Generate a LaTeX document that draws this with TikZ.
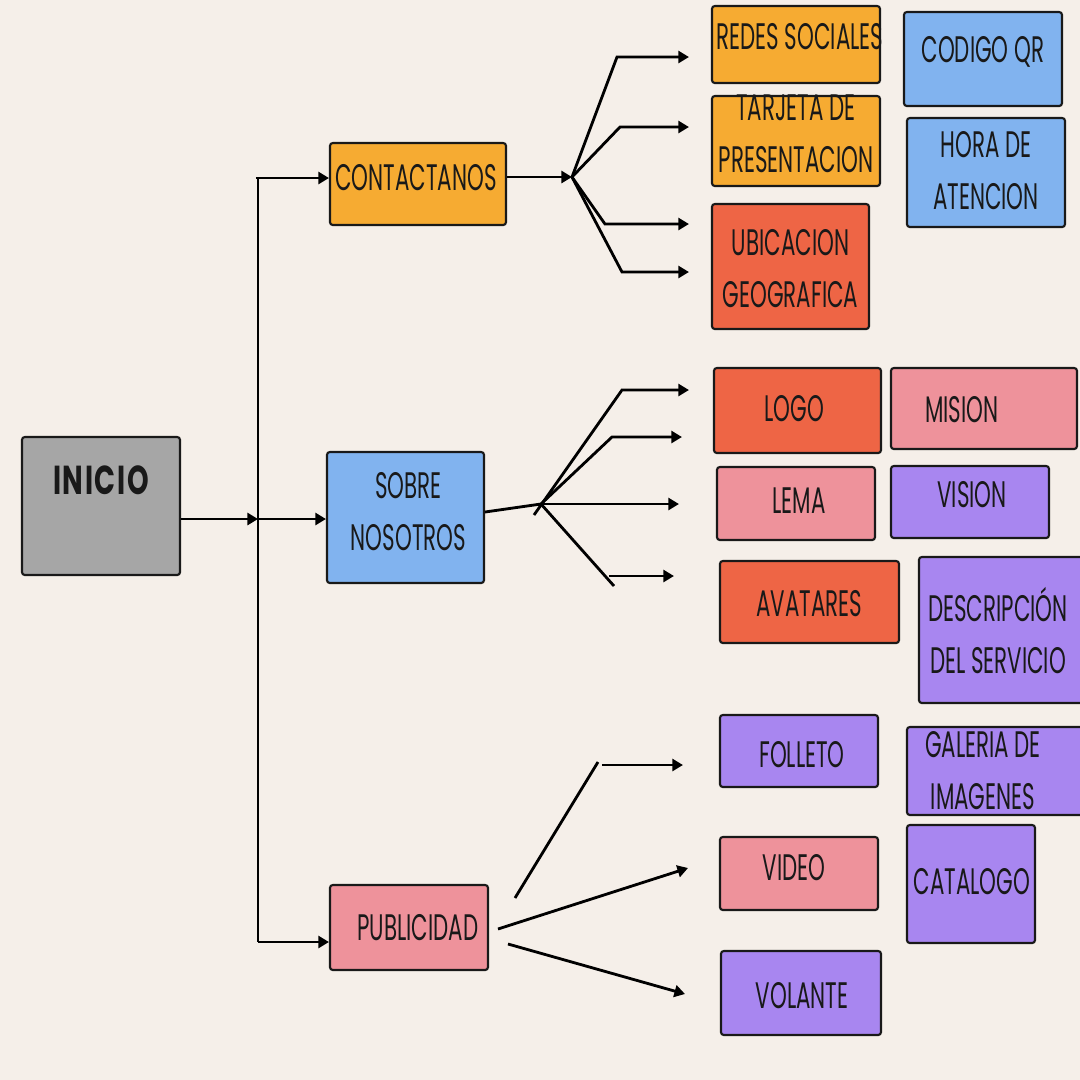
\documentclass[tikz,border=0pt]{standalone}
\usepackage{fontspec}
\setmainfont{Poppins}[FakeStretch=0.58]
\newfontfamily\inicioFont{Poppins}[FakeStretch=0.68,LetterSpace=4]
\usetikzlibrary{arrows.meta}
\definecolor{paper}{RGB}{245,239,233}
\definecolor{boxGray}{RGB}{166,166,166}
\definecolor{boxOrange}{RGB}{246,171,50}
\definecolor{boxBlue}{RGB}{129,179,239}
\definecolor{boxRed}{RGB}{238,101,69}
\definecolor{boxPink}{RGB}{238,146,155}
\definecolor{boxPurple}{RGB}{168,134,240}
\tikzset{
	box/.style={draw=black!90,line width=0.6pt,rounded corners=0.8pt,inner sep=0pt},
	boxText/.style={align=center,text=black!90,font=\fontsize{10.5}{14.8}\selectfont,inner sep=0pt},
	link/.style={line width=0.8pt,black},
	linkArrow/.style={link,-{Triangle[length=3pt,width=3.4pt]}},
}
\NewDocumentCommand\DrawBox{O{0,0}mmmmmmm}%
{%
\node[box,fill=#7,minimum width={(#5-#3)*0.1mm},minimum height={(#6-#4)*0.1mm}] (#2) at ({(#3+#5)/2},{(#4+#6)/2}) {};%
\node[boxText,shift={(#1)}] (#2-txt) at (#2.center) {#8};%
}

\begin{document}
\begin{tikzpicture}[x=0.1mm,y=-0.1mm]
\useasboundingbox (0,0) rectangle (1080,1080);
\fill[paper] (0,0) rectangle (1080,1080);
\clip (0,0) rectangle (1080,1080);

\DrawBox[0,-26]{inicio}{22}{437}{180}{575}{boxGray}{\inicioFont\bfseries\fontsize{11.5}{14}\selectfont INICIO}
\DrawBox[-2,-6]{contacto}{330}{143}{506}{225}{boxOrange}{CONTACTANOS}
\DrawBox[3,-6]{sobre}{327}{452}{484}{583}{boxBlue}{SOBRE\\NOSOTROS}
\DrawBox[9,0]{publi}{330}{885}{488}{970}{boxPink}{PUBLICIDAD}

\DrawBox[4,-8]{redes}{712}{6}{880}{83}{boxOrange}{REDES SOCIALES}
\DrawBox[0,-7]{tarjeta}{712}{96}{880}{186}{boxOrange}{TARJETA DE\\PRESENTACION}
\DrawBox[0,2]{ubicacion}{712}{204}{869}{329}{boxRed}{UBICACION\\GEOGRAFICA}
\DrawBox[0,-7]{codigo}{904}{12}{1062}{106}{boxBlue}{CODIGO QR}
\DrawBox[0,-2]{hora}{907}{118}{1065}{227}{boxBlue}{HORA DE\\ATENCION}

\DrawBox[-3,-2]{logo}{714}{368}{881}{453}{boxRed}{LOGO}
\DrawBox[-22,1]{mision}{891}{368}{1077}{449}{boxPink}{MISION}
\DrawBox[3,-3]{lema}{717}{467}{875}{540}{boxPink}{LEMA}
\DrawBox[2,-7]{vision}{891}{466}{1049}{538}{boxPurple}{VISION}
\DrawBox[0,2]{avatares}{720}{561}{899}{643}{boxRed}{AVATARES}
\DrawBox[-4,1]{descripcion}{919}{557}{1085}{703}{boxPurple}{DESCRIPCIÓN\\DEL SERVICIO}

\DrawBox[3,4]{folleto}{720}{715}{878}{787}{boxPurple}{FOLLETO}
\DrawBox[-13,0]{galeria}{907}{727}{1085}{815}{boxPurple}{GALERIA DE\\IMAGENES}
\DrawBox[-5,-6]{video}{720}{837}{878}{910}{boxPink}{VIDEO}
\DrawBox[1,-2]{catalogo}{907}{825}{1035}{943}{boxPurple}{CATALOGO}
\DrawBox[1,3]{volante}{721}{951}{881}{1035}{boxPurple}{VOLANTE}

\coordinate (trunkTop) at (256,178);
\coordinate (trunkMid) at (258,519);
\coordinate (trunkBot) at (258,942);
\draw[link] (trunkTop -| trunkMid) -- (trunkBot);
\draw[linkArrow] (inicio.east |- trunkMid) -- (trunkMid);
\draw[linkArrow] (trunkTop) -- (contacto.west |- trunkTop);
\draw[linkArrow] (trunkMid) -- (sobre.west |- trunkMid);
\draw[linkArrow] (trunkBot) -- (publi.west |- trunkBot);

\coordinate (contactHub) at (572,177);
\draw[linkArrow] (contacto.east |- contactHub) -- (contactHub);
\foreach \target/\kx/\ky in {redes/617/57,tarjeta/620/127,ubicacion/605/224,ubicacion/622/272}
	\draw[linkArrow,shorten >=2.2mm] (contactHub) -- (\kx,\ky) -- (\target.west |- 0,\ky);

\coordinate (aboutHub) at (541,504);
\coordinate (aboutTail) at (534,515);
\draw[link] (sobre.east |- 0,512) -- (aboutHub);
\draw[linkArrow,shorten >=2.4mm] (aboutTail) -- (622,390) -- (logo.west |- 0,390);
\draw[linkArrow,shorten >=3.1mm] (aboutHub) -- (612,437) -- (logo.west |- 0,437);
\draw[linkArrow,shorten >=3.7mm] (aboutHub) -- (lema.west |- aboutHub);
\draw[link] (aboutHub) -- (614,586);
\draw[linkArrow,shorten >=4.5mm] (609,576) -- (avatares.west |- 0,576);

\coordinate (publiUp) at (515,898);
\coordinate (publiMid) at (498,929);
\coordinate (publiLow) at (508,944);
\draw[link] (publiUp) -- (598,762);
\draw[linkArrow,shorten >=3.6mm] (602,765) -- (folleto.west |- 0,765);
\draw[linkArrow] (publiMid) -- (688,868);
\draw[linkArrow] (publiLow) -- (685,994);
\end{tikzpicture}
\end{document}
